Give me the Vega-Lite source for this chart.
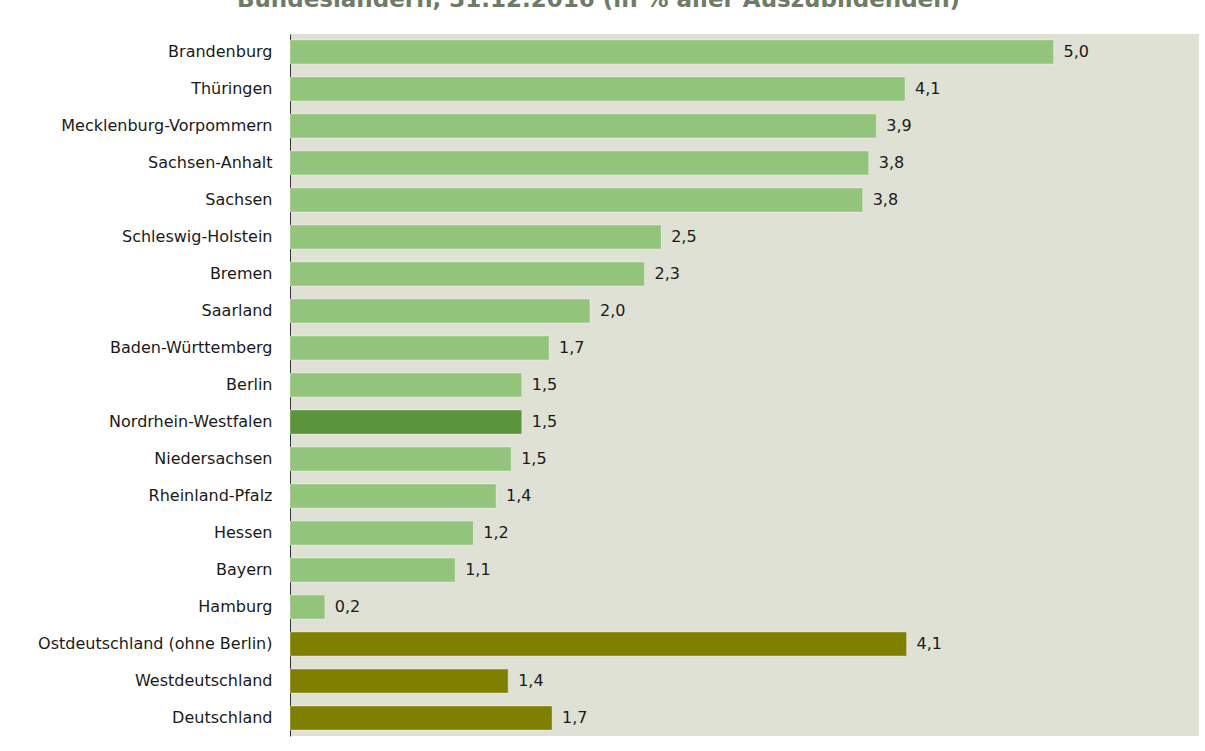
{
  "$schema": "https://vega.github.io/schema/vega-lite/v6.json",
  "width": 909,
  "height": 702,
  "autosize": {"type": "none"},
  "padding": {"left": 290, "top": 34, "right": 6, "bottom": 15},
  "background": "white",
  "title": {
    "text": "Bundesländern, 31.12.2016 (in % aller Auszubildenden)",
    "anchor": "middle",
    "frame": "group",
    "dx": -146,
    "offset": 4,
    "baseline": "alphabetic",
    "fontSize": 23,
    "fontWeight": "bold",
    "font": "DejaVu Sans",
    "color": "#6e7b68"
  },
  "config": {
    "view": {"fill": "#e0e1d5", "stroke": null},
    "font": "DejaVu Sans"
  },
  "data": {
    "values": [
      {"land": "Brandenburg", "wert": 5.04, "label": "5,0", "gruppe": "Land"},
      {"land": "Thüringen", "wert": 4.06, "label": "4,1", "gruppe": "Land"},
      {"land": "Mecklenburg-Vorpommern", "wert": 3.87, "label": "3,9", "gruppe": "Land"},
      {"land": "Sachsen-Anhalt", "wert": 3.82, "label": "3,8", "gruppe": "Land"},
      {"land": "Sachsen", "wert": 3.78, "label": "3,8", "gruppe": "Land"},
      {"land": "Schleswig-Holstein", "wert": 2.45, "label": "2,5", "gruppe": "Land"},
      {"land": "Bremen", "wert": 2.34, "label": "2,3", "gruppe": "Land"},
      {"land": "Saarland", "wert": 1.98, "label": "2,0", "gruppe": "Land"},
      {"land": "Baden-Württemberg", "wert": 1.71, "label": "1,7", "gruppe": "Land"},
      {"land": "Berlin", "wert": 1.53, "label": "1,5", "gruppe": "Land"},
      {"land": "Nordrhein-Westfalen", "wert": 1.53, "label": "1,5", "gruppe": "NRW"},
      {"land": "Niedersachsen", "wert": 1.46, "label": "1,5", "gruppe": "Land"},
      {"land": "Rheinland-Pfalz", "wert": 1.36, "label": "1,4", "gruppe": "Land"},
      {"land": "Hessen", "wert": 1.21, "label": "1,2", "gruppe": "Land"},
      {"land": "Bayern", "wert": 1.09, "label": "1,1", "gruppe": "Land"},
      {"land": "Hamburg", "wert": 0.23, "label": "0,2", "gruppe": "Land"},
      {"land": "Ostdeutschland (ohne Berlin)", "wert": 4.07, "label": "4,1", "gruppe": "Aggregat"},
      {"land": "Westdeutschland", "wert": 1.44, "label": "1,4", "gruppe": "Aggregat"},
      {"land": "Deutschland", "wert": 1.73, "label": "1,7", "gruppe": "Aggregat"}
    ]
  },
  "encoding": {
    "y": {
      "field": "land",
      "type": "nominal",
      "sort": null,
      "scale": {"paddingInner": 0.35, "paddingOuter": 0.16},
      "axis": {
        "title": null,
        "ticks": false,
        "domain": true,
        "domainColor": "#333333",
        "domainWidth": 1,
        "labelFontSize": 16,
        "labelLimit": 400,
        "labelColor": "#1a1a1a",
        "labelPadding": 18,
        "labelFont": "DejaVu Sans"
      }
    },
    "x": {
      "field": "wert",
      "type": "quantitative",
      "scale": {"domain": [0, 6], "nice": false, "zero": true},
      "axis": null
    }
  },
  "layer": [
    {
      "mark": {"type": "bar", "stroke": "#ffffff", "strokeOpacity": 0.35, "strokeWidth": 1},
      "encoding": {
        "color": {
          "field": "gruppe",
          "type": "nominal",
          "scale": {"domain": ["Land", "NRW", "Aggregat"], "range": ["#93c47b", "#5a953c", "#808000"]},
          "legend": null
        }
      }
    },
    {
      "mark": {"type": "text", "align": "left", "baseline": "middle", "dx": 10, "fontSize": 16, "color": "#1a1a1a", "font": "DejaVu Sans"},
      "encoding": {"text": {"field": "label"}}
    }
  ]
}
